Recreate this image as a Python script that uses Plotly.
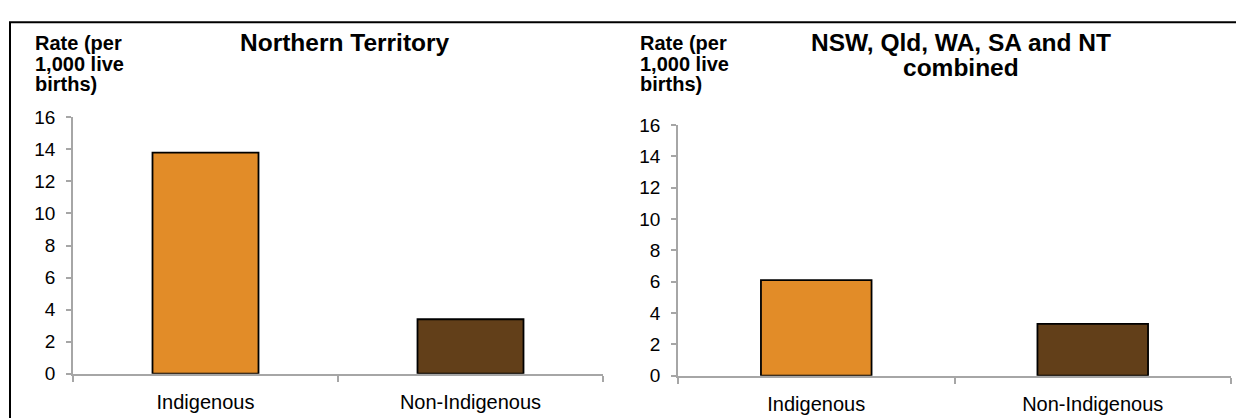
import plotly.graph_objects as go
from plotly.subplots import make_subplots

# Data
categories = ["Indigenous", "Non-Indigenous"]
nt_rates = [13.8, 3.4]
combined_rates = [6.1, 3.3]
bar_colors = ["#E28C28", "#623F19"]

left_title = ["Northern Territory"]
right_title = ["NSW, Qld, WA, SA and NT", "combined"]
y_title = ["Rate (per", "1,000 live", "births)"]

W, H = 1236, 418
FONT = "Liberation Sans, Arial, sans-serif"
AXIS_GREY = "#A6A6A6"


def px_x(v):
    return v / W


def px_y(v):
    return (H - v) / H


fig = make_subplots(rows=1, cols=2)

for col, rates in ((1, nt_rates), (2, combined_rates)):
    fig.add_trace(
        go.Bar(
            x=categories,
            y=rates,
            marker=dict(color=bar_colors, line=dict(color="black", width=1.8)),
            showlegend=False,
            hoverinfo="skip",
        ),
        row=1, col=col,
    )

axis_common = dict(
    showline=True,
    linecolor=AXIS_GREY,
    linewidth=1.8,
    showgrid=False,
    zeroline=False,
    ticks="outside",
    tickcolor=AXIS_GREY,
    tickwidth=1.5,
)

xaxis_style = dict(
    tickson="boundaries",
    ticklen=6,
    ticklabelstandoff=9,
    tickfont=dict(size=20, color="black", family=FONT),
    **axis_common,
)
yaxis_style = dict(
    range=[0, 16],
    dtick=2,
    ticklen=5,
    ticklabelstandoff=7,
    tickfont=dict(size=19, color="black", family=FONT),
    **axis_common,
)

# Left panel
fig.update_xaxes(domain=[px_x(73), px_x(603)], **xaxis_style, row=1, col=1)
fig.update_yaxes(domain=[px_y(383), px_y(113)], **yaxis_style, row=1, col=1)

# Right panel
fig.update_xaxes(domain=[px_x(678), px_x(1231)], **xaxis_style, row=1, col=2)
fig.update_yaxes(domain=[px_y(385), px_y(121)], **yaxis_style, row=1, col=2)

fig.update_layout(bargap=0.6)

# Chart titles, one annotation per line to keep the tight line spacing
for lines, cx in ((left_title, 345), (right_title, 961)):
    for i, line in enumerate(lines):
        fig.add_annotation(
            xref="paper", yref="paper", x=px_x(cx), y=px_y(34 + 27 * i),
            text=f"<b>{line}</b>", showarrow=False,
            font=dict(size=24.5, color="black", family=FONT),
            xanchor="center", yanchor="middle",
        )

# Y-axis captions
for x_left in (33, 638):
    for i, line in enumerate(y_title):
        fig.add_annotation(
            xref="paper", yref="paper", x=px_x(x_left), y=px_y(35 + 21.5 * i),
            text=f"<b>{line}</b>", showarrow=False,
            font=dict(size=20, color="black", family=FONT),
            xanchor="left", yanchor="middle", align="left",
        )

# Outer frame (open to the right and bottom, as cropped in the source)
fig.add_shape(
    type="rect", xref="paper", yref="paper",
    x0=px_x(10), y0=-0.2, x1=1.2, y1=px_y(13),
    line=dict(color="black", width=2),
)

fig.update_layout(
    width=W,
    height=H,
    margin=dict(l=0, r=0, t=0, b=0),
    paper_bgcolor="white",
    plot_bgcolor="white",
    font=dict(family=FONT, color="black"),
)

fig.write_html(
    "out.html",
    config={"displayModeBar": False},
    post_script="document.body.style.margin='0';document.body.style.overflow='hidden';",
)
